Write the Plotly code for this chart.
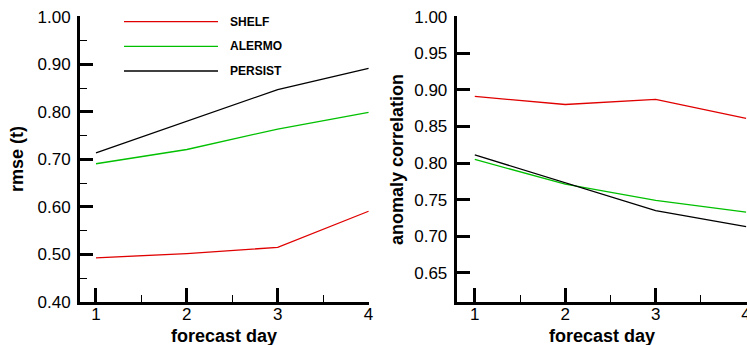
import plotly.graph_objects as go

W, H = 747, 345

days = [1, 2, 3, 4]
series_names = ["SHELF", "ALERMO", "PERSIST"]
colors = {"SHELF": "#e00000", "ALERMO": "#00c000", "PERSIST": "#000000"}

rmse_shelf = [0.493, 0.502, 0.515, 0.591]
rmse_alermo = [0.691, 0.721, 0.764, 0.799]
rmse_persist = [0.714, 0.780, 0.847, 0.892]

acc_shelf = [0.891, 0.880, 0.887, 0.861]
acc_alermo = [0.805, 0.771, 0.749, 0.733]
acc_persist = [0.811, 0.773, 0.735, 0.713]

rmse = {"SHELF": rmse_shelf, "ALERMO": rmse_alermo, "PERSIST": rmse_persist}
acc = {"SHELF": acc_shelf, "ALERMO": acc_alermo, "PERSIST": acc_persist}

FONT = "Liberation Sans, Arial, Helvetica, sans-serif"

fig = go.Figure()
for n in series_names:
    fig.add_trace(go.Scatter(x=days, y=rmse[n], mode="lines", name=n,
                             line=dict(color=colors[n], width=1.3),
                             xaxis="x", yaxis="y", showlegend=False))
for n in series_names:
    fig.add_trace(go.Scatter(x=days, y=acc[n], mode="lines", name=n,
                             line=dict(color=colors[n], width=1.3),
                             xaxis="x2", yaxis="y2", showlegend=False))

def px_x(p):
    return p / W

def px_y(p):
    return 1 - p / H

ydom = [px_y(302), px_y(16)]

common_x = dict(
    showline=True, linewidth=3, linecolor="black",
    ticks="inside", ticklen=14, tickwidth=3, tickcolor="black",
    tickvals=days, ticktext=[str(d) for d in days],
    showgrid=False, zeroline=False,
    tickfont=dict(family=FONT, size=17, color="black"),
    minor=dict(ticks="inside", ticklen=7, tickwidth=1, tickcolor="black",
               tickvals=[1.5, 2.5, 3.5], showgrid=False),
    automargin=False, ticklabeloverflow="allow", ticklabelstandoff=-5,
)
common_y = dict(
    showline=True, linewidth=3, linecolor="black",
    ticks="inside", ticklen=13, tickwidth=3, tickcolor="black",
    showgrid=False, zeroline=False, tickformat=".2f",
    tickfont=dict(family=FONT, size=17, color="black"),
    automargin=False, ticklabeloverflow="allow", ticklabelstandoff=3,
)

fig.update_layout(
    width=W, height=H,
    margin=dict(l=0, r=0, t=0, b=0, pad=0),
    paper_bgcolor="white", plot_bgcolor="white",
    xaxis=dict(common_x, domain=[px_x(80), px_x(369)], range=[0.824, 4.005], anchor="y"),
    yaxis=dict(common_y, domain=ydom, range=[0.40, 1.002], dtick=0.1, tick0=0.4,
               minor=dict(ticks="inside", ticklen=7, tickwidth=1, tickcolor="black",
                          dtick=0.05, tick0=0.45, showgrid=False),
               anchor="x"),
    xaxis2=dict(common_x, domain=[px_x(456.7), 1.0], range=[0.80, 4.01], anchor="y2"),
    yaxis2=dict(common_y, domain=ydom, range=[0.61, 1.001], dtick=0.05, tick0=0.6,
                anchor="x2"),
    showlegend=False,
)

ann = []
ann.append(dict(text="<b>rmse (t)</b>", x=px_x(17), y=px_y(159), xref="paper", yref="paper",
                xanchor="center", yanchor="middle",
                textangle=-90, showarrow=False, font=dict(family=FONT, size=18, color="black")))
ann.append(dict(text="<b>anomaly correlation</b>", x=px_x(397), y=px_y(159), xref="paper", yref="paper",
                xanchor="center", yanchor="middle",
                textangle=-90, showarrow=False, font=dict(family=FONT, size=18, color="black")))
ann.append(dict(text="<b>forecast day</b>", x=px_x(224), y=px_y(336), xref="paper", yref="paper",
                xanchor="center", yanchor="middle",
                showarrow=False, font=dict(family=FONT, size=18, color="black")))
ann.append(dict(text="<b>forecast day</b>", x=px_x(602), y=px_y(336), xref="paper", yref="paper",
                xanchor="center", yanchor="middle",
                showarrow=False, font=dict(family=FONT, size=18, color="black")))

shapes = []
leg_y = [21.7, 46.3, 71.0]
for n, ly in zip(series_names, leg_y):
    shapes.append(dict(type="line", xref="paper", yref="paper",
                       x0=px_x(124), x1=px_x(218), y0=px_y(ly), y1=px_y(ly),
                       line=dict(color=colors[n], width=1.3)))
    ann.append(dict(text="<b>" + n + "</b>", x=px_x(228), y=px_y(ly), xref="paper", yref="paper",
                    xanchor="left", yanchor="middle", showarrow=False,
                    font=dict(family=FONT, size=12, color="black")))

fig.update_layout(annotations=ann, shapes=shapes)

fig.write_html("out.html")
